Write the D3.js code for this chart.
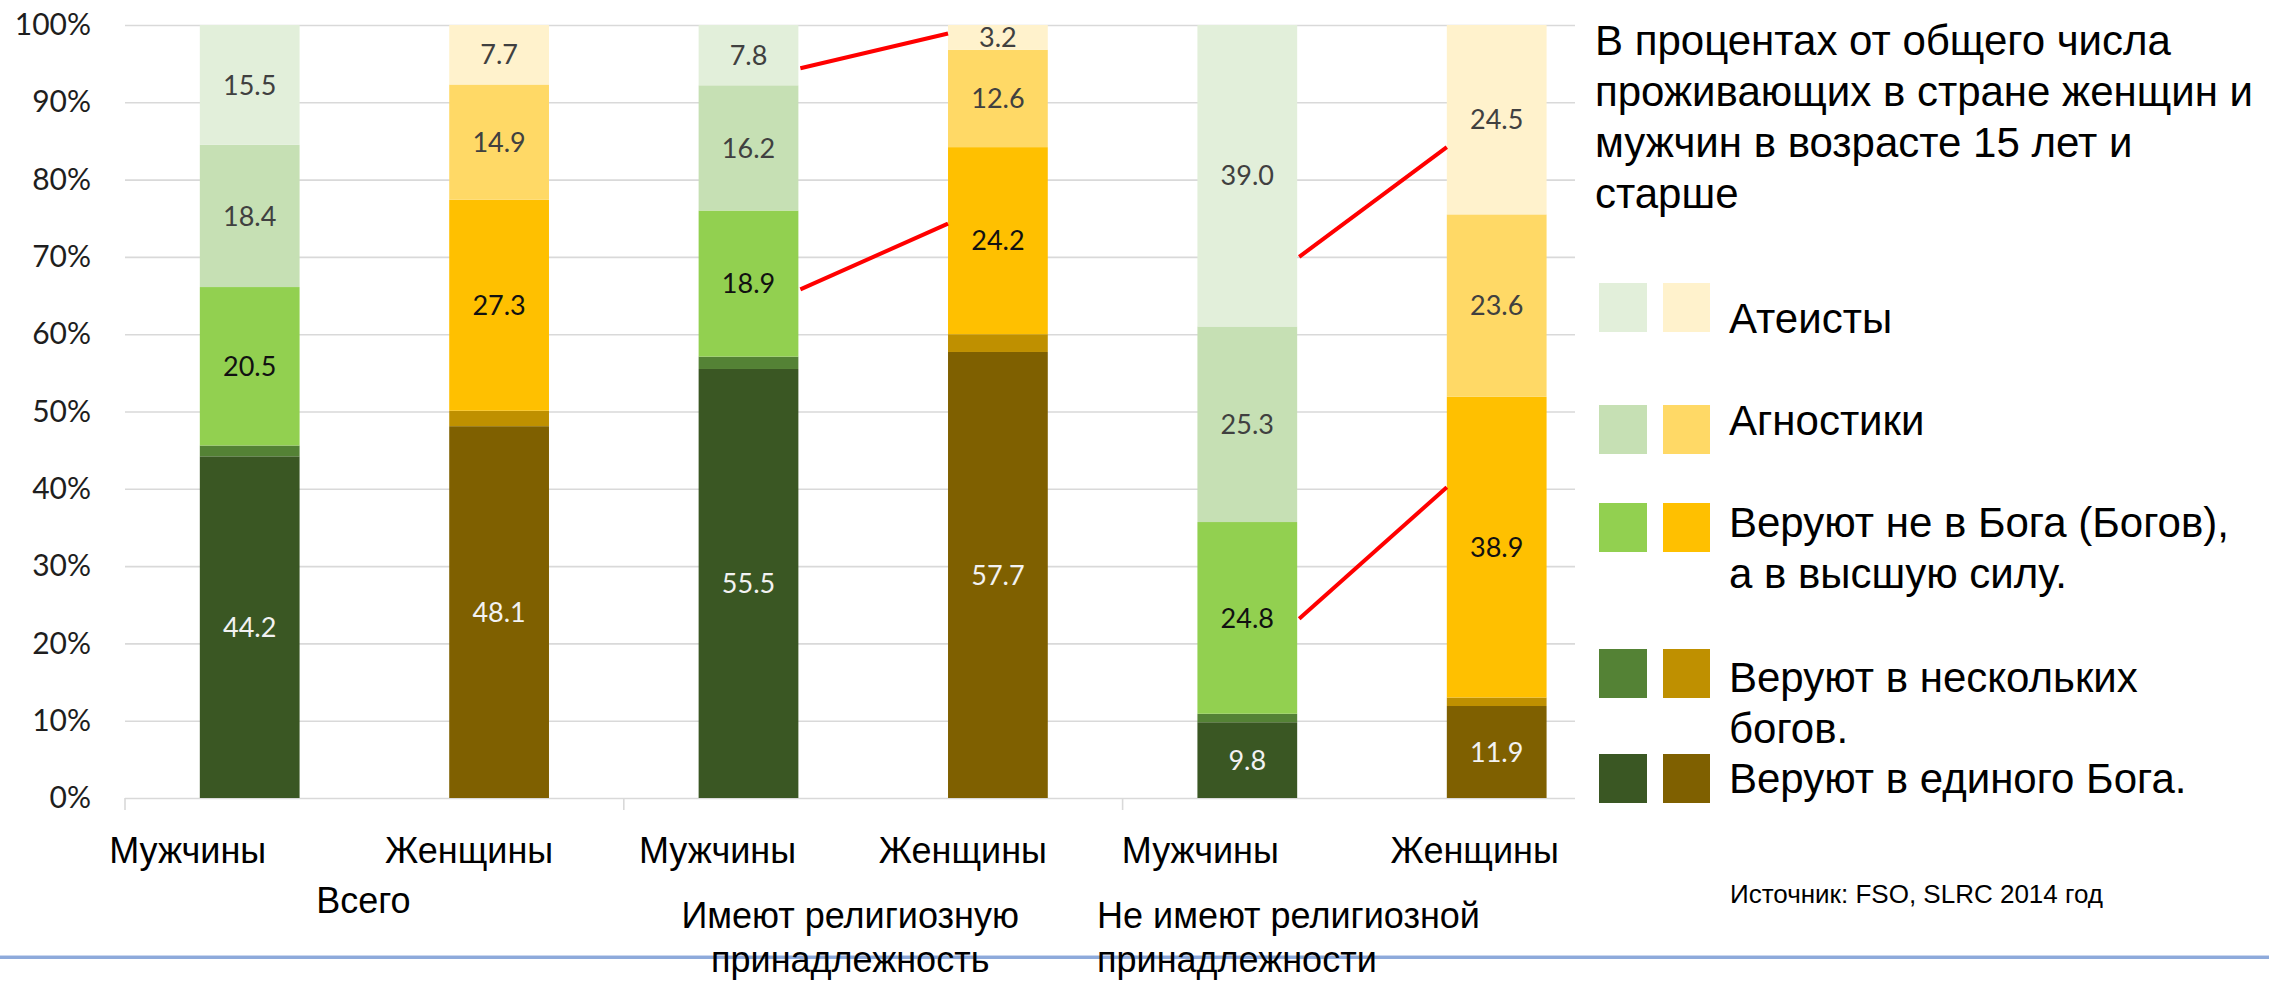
<!DOCTYPE html>
<html>
<head>
<meta charset="utf-8">
<script src="https://cdn.jsdelivr.net/npm/d3@7"></script>
<style>
  body { margin: 0; background: #fff; }
  svg { display: block; }
</style>
</head>
<body>
<script>
// categories and series (percent of population 15+)
const categories = ["Мужчины", "Женщины", "Мужчины", "Женщины", "Мужчины", "Женщины"];
const groups = [["Всего"], ["Имеют религиозную", "принадлежность"], ["Не имеют религиозной", "принадлежности"]];
const monotheist = [44.2, 48.1, 55.5, 57.7, 9.8, 11.9];
const polytheist = [1.4, 2.0, 1.6, 2.3, 1.1, 1.1];
const higherPower = [20.5, 27.3, 18.9, 24.2, 24.8, 38.9];
const agnostics = [18.4, 14.9, 16.2, 12.6, 25.3, 23.6];
const atheists = [15.5, 7.7, 7.8, 3.2, 39.0, 24.5];
const yTicks = [0, 10, 20, 30, 40, 50, 60, 70, 80, 90, 100];

// red connector lines between bars (bar index, value at each end)
const connectors = [
  { from: 2, to: 3, v0: 94.4, v1: 98.9 },
  { from: 2, to: 3, v0: 65.8, v1: 74.3 },
  { from: 4, to: 5, v0: 70.0, v1: 84.2 },
  { from: 4, to: 5, v0: 23.2, v1: 40.2 }
];

const keys = ["mono", "poly", "higher", "agn", "ath"];
const legendLabels = [
  ["Атеисты"],
  ["Агностики"],
  ["Веруют не в Бога (Богов),", "а в высшую силу."],
  ["Веруют в нескольких", "богов."],
  ["Веруют в единого Бога."]
];
const legendKeys = ["ath", "agn", "higher", "poly", "mono"];
const title = ["В процентах от общего числа", "проживающих в стране женщин и", "мужчин в возрасте 15 лет и", "старше"];
const source = "Источник: FSO, SLRC 2014 год";

const green = { mono: "#3a5723", poly: "#548235", higher: "#92d050", agn: "#c6e0b4", ath: "#e2efda" };
const gold = { mono: "#7f6000", poly: "#bf9000", higher: "#ffc000", agn: "#ffd966", ath: "#fff2cc" };
const labelColor = { mono: "#f2f2f2", higher: "#111", agn: "#404040", ath: "#404040" };

const width = 2269, height = 981;
const svg = d3.select("body").append("svg")
  .attr("width", width)
  .attr("height", height)
  .attr("viewBox", [0, 0, width, height]);

const data = categories.map((c, i) => ({
  i, mono: monotheist[i], poly: polytheist[i], higher: higherPower[i], agn: agnostics[i], ath: atheists[i]
}));
const series = d3.stack().keys(keys)(data);

const x = d3.scaleBand()
  .domain(d3.range(categories.length))
  .range([125, 1621.4])
  .paddingInner(0.6)
  .paddingOuter(0.3);

const y = d3.scaleLinear()
  .domain([0, 100])
  .range([798, 25]);

const gridRight = 1575;

// bottom blue rule
svg.append("rect").attr("x", 0).attr("y", 955).attr("width", width).attr("height", 1).attr("fill", "#cad7ef");
svg.append("rect").attr("x", 0).attr("y", 956).attr("width", width).attr("height", 3).attr("fill", "#8eaadb");

// y axis + grid
svg.append("g")
  .attr("transform", "translate(125,0)")
  .call(d3.axisLeft(y).tickValues(yTicks).tickFormat(d => d + "%").tickSize(-(gridRight - 125)).tickPadding(34))
  .call(g => g.select(".domain").remove())
  .call(g => g.selectAll(".tick line").attr("stroke", "#d9d9d9").attr("stroke-width", 1.6))
  .call(g => g.selectAll(".tick text")
    .attr("font-family", "Lato, 'Open Sans', sans-serif")
    .attr("font-size", 30)
    .attr("fill", "#1e1e1e"));

// group separator ticks under the axis
const step = x.step();
svg.append("g")
  .selectAll("line")
  .data(groups)
  .join("line")
    .attr("x1", (d, g) => x(g * 2) - step * x.paddingOuter())
    .attr("x2", (d, g) => x(g * 2) - step * x.paddingOuter())
    .attr("y1", y(0))
    .attr("y2", y(0) + 12)
    .attr("stroke", "#d9d9d9")
    .attr("stroke-width", 1.6);

// bars
const palette = i => (i % 2 === 0 ? green : gold);
svg.append("g")
  .selectAll("g")
  .data(series)
  .join("g")
  .selectAll("rect")
  .data(s => s.map(d => ({ key: s.key, d })))
  .join("rect")
    .attr("x", o => x(o.d.data.i))
    .attr("width", x.bandwidth())
    .attr("y", o => y(o.d[1]))
    .attr("height", o => y(o.d[0]) - y(o.d[1]))
    .attr("fill", o => palette(o.d.data.i)[o.key]);

// data labels
svg.append("g")
  .selectAll("g")
  .data(series.filter(s => s.key !== "poly"))
  .join("g")
  .selectAll("text")
  .data(s => s.map(d => ({ key: s.key, d })))
  .join("text")
    .attr("x", o => x(o.d.data.i) + x.bandwidth() / 2)
    .attr("y", o => y((o.d[0] + o.d[1]) / 2))
    .attr("dy", "0.36em")
    .attr("text-anchor", "middle")
    .attr("font-family", "Lato, 'Open Sans', sans-serif")
    .attr("font-size", 27)
    .attr("fill", o => labelColor[o.key])
    .text(o => d3.format(".1f")(o.d.data[o.key]));

// red connectors
svg.append("g")
  .selectAll("line")
  .data(connectors)
  .join("line")
    .attr("x1", d => x(d.from) + x.bandwidth() + 2)
    .attr("y1", d => y(d.v0))
    .attr("x2", d => x(d.to))
    .attr("y2", d => y(d.v1))
    .attr("stroke", "#ff0000")
    .attr("stroke-width", 4);

// category labels
const catShift = [-62, -30, -31, -35, -47, -22];
svg.append("g")
  .selectAll("text")
  .data(categories)
  .join("text")
    .attr("x", (d, i) => x(i) + x.bandwidth() / 2 + catShift[i])
    .attr("y", 863)
    .attr("text-anchor", "middle")
    .attr("font-family", "'Liberation Sans', Arial, sans-serif")
    .attr("font-size", 36)
    .attr("fill", "#000")
    .text(d => d);

// group labels
const groupLayout = [
  { dx: -11, anchor: "middle", y: 913 },
  { dx: -23, anchor: "middle", y: 928 },
  { dx: -275, anchor: "start", y: 928 }
];
svg.append("g")
  .selectAll("text")
  .data(groups)
  .join("text")
    .attr("x", (d, g) => (x(g * 2) + x(g * 2 + 1) + x.bandwidth()) / 2 + groupLayout[g].dx)
    .attr("y", (d, g) => groupLayout[g].y)
    .attr("text-anchor", (d, g) => groupLayout[g].anchor)
    .attr("font-family", "'Liberation Sans', Arial, sans-serif")
    .attr("font-size", 36)
    .attr("fill", "#000")
    .each(function (lines) {
      const t = d3.select(this);
      const x0 = t.attr("x");
      lines.forEach((ln, k) => t.append("tspan").attr("x", x0).attr("dy", k ? 44 : 0).text(ln));
    });

// title block
svg.append("text")
  .attr("x", 1595)
  .attr("y", 55)
  .attr("font-family", "'Liberation Sans', Arial, sans-serif")
  .attr("font-size", 42)
  .attr("fill", "#000")
  .selectAll("tspan")
  .data(title)
  .join("tspan")
    .attr("x", 1595)
    .attr("dy", (d, k) => (k ? 51 : 0))
    .text(d => d);

// legend
const legendRows = [
  { top: 283, base: 333 },
  { top: 405, base: 435 },
  { top: 503, base: 537 },
  { top: 649, base: 692 },
  { top: 754, base: 793 }
];
const legend = svg.append("g")
  .selectAll("g")
  .data(legendKeys)
  .join("g");
legend.append("rect")
  .attr("x", 1599).attr("y", (d, k) => legendRows[k].top)
  .attr("width", 48).attr("height", 49)
  .attr("fill", d => green[d]);
legend.append("rect")
  .attr("x", 1663).attr("y", (d, k) => legendRows[k].top)
  .attr("width", 47).attr("height", 49)
  .attr("fill", d => gold[d]);
legend.append("text")
  .attr("x", 1729)
  .attr("y", (d, k) => legendRows[k].base)
  .attr("font-family", "'Liberation Sans', Arial, sans-serif")
  .attr("font-size", 42)
  .attr("fill", "#000")
  .each(function (d, k) {
    const t = d3.select(this);
    legendLabels[k].forEach((ln, j) => t.append("tspan").attr("x", 1729).attr("dy", j ? 51 : 0).text(ln));
  });

svg.append("text")
  .attr("x", 1730)
  .attr("y", 903)
  .attr("font-family", "'Liberation Sans', Arial, sans-serif")
  .attr("font-size", 26)
  .attr("fill", "#000")
  .text(source);
</script>
</body>
</html>
